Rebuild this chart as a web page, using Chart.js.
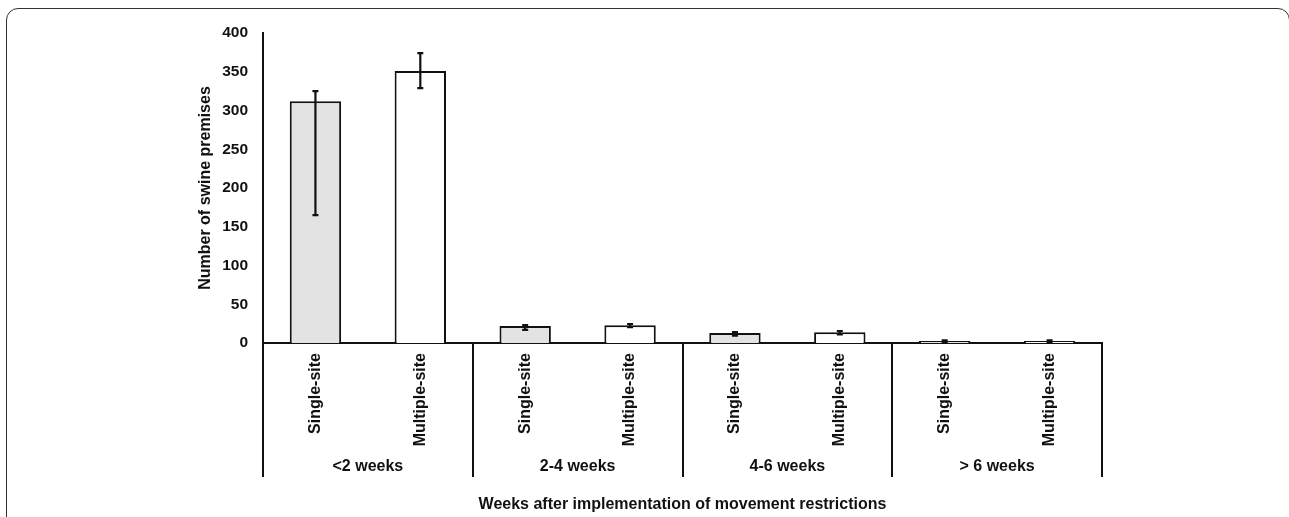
<!DOCTYPE html>
<html>
<head>
<meta charset="utf-8">
<script src="https://cdn.jsdelivr.net/npm/chart.js@4.4.1/dist/chart.umd.min.js"></script>
<style>
  body { margin: 0; background: #fff; }
  #wrap { position: relative; width: 1289px; height: 517px; overflow: hidden; }
  #frame {
    position: absolute; left: 6px; top: 8px; width: 1284px; height: 560px;
    border: 1.5px solid #333; border-radius: 12px; box-sizing: border-box;
    pointer-events: none;
  }
</style>
</head>
<body>
<div id="wrap">
  <canvas id="bar-chart"></canvas>
  <div id="frame"></div>
</div>
<script>
// values
var categories = ["Single-site", "Multiple-site", "Single-site", "Multiple-site",
                  "Single-site", "Multiple-site", "Single-site", "Multiple-site"];
var groups = ["<2 weeks", "2-4 weeks", "4-6 weeks", "> 6 weeks"];
var premises = [312, 351, 22, 23, 13, 14, 2.5, 2.5];
var errLow = [165, 329, 17, 20.5, 9.5, 11, 1.5, 1.5];
var errHigh = [325, 374, 23, 24.5, 14, 15.5, 3.5, 3.5];
var yTicks = [0, 50, 100, 150, 200, 250, 300, 350, 400];

var ink = "#111";
var font = "Liberation Sans";

// error bars on top of the bars
var errorBars = {
  id: "errorBars",
  afterDatasetsDraw: function (chart) {
    var ctx = chart.ctx;
    var y = chart.scales.y;
    var bars = chart.getDatasetMeta(0).data;
    ctx.save();
    ctx.strokeStyle = ink;
    ctx.lineWidth = 2.2;
    bars.forEach(function (bar, i) {
      var top = y.getPixelForValue(errHigh[i]);
      var bot = y.getPixelForValue(errLow[i]);
      ctx.beginPath();
      ctx.moveTo(bar.x, top); ctx.lineTo(bar.x, bot);
      ctx.moveTo(bar.x - 3, top); ctx.lineTo(bar.x + 3, top);
      ctx.moveTo(bar.x - 3, bot); ctx.lineTo(bar.x + 3, bot);
      ctx.stroke();
    });
    ctx.restore();
  }
};

// group separators and group labels under the tick labels
var groupAxis = {
  id: "groupAxis",
  afterDraw: function (chart) {
    var ctx = chart.ctx;
    var x = chart.scales.x;
    var area = chart.chartArea;
    var edges = [x.left];
    for (var g = 1; g < groups.length; g++) {
      edges.push((x.getPixelForTick(g * 2 - 1) + x.getPixelForTick(g * 2)) / 2);
    }
    edges.push(x.right);
    ctx.save();
    ctx.strokeStyle = ink;
    ctx.lineWidth = 2;
    edges.forEach(function (px) {
      ctx.beginPath();
      ctx.moveTo(Math.round(px), area.bottom);
      ctx.lineTo(Math.round(px), 477);
      ctx.stroke();
    });
    ctx.fillStyle = ink;
    ctx.font = "bold 16px '" + font + "'";
    ctx.textAlign = "center";
    ctx.textBaseline = "middle";
    groups.forEach(function (name, i) {
      ctx.fillText(name, (edges[i] + edges[i + 1]) / 2, 467);
    });
    ctx.restore();
  }
};

new Chart(document.getElementById("bar-chart"), {
  type: "bar",
  data: {
    labels: categories,
    datasets: [{
      data: premises,
      backgroundColor: ["#e3e3e3", "#ffffff", "#e3e3e3", "#ffffff",
                        "#e3e3e3", "#ffffff", "#e3e3e3", "#ffffff"],
      borderColor: ink,
      borderWidth: 2,
      borderSkipped: "bottom",
      barPercentage: 0.49,
      categoryPercentage: 1
    }]
  },
  options: {
    responsive: true,
    maintainAspectRatio: false,
    animation: false,
    layout: { padding: { left: 196, top: 33, right: 187, bottom: 0 } },
    plugins: { legend: { display: false }, tooltip: { enabled: false } },
    scales: {
      x: {
        grid: { display: false, drawTicks: false },
        border: { display: true, color: ink, width: 2 },
        ticks: {
          color: ink, padding: 10, minRotation: 90, maxRotation: 90,
          font: { family: font, size: 16, weight: "bold" }
        },
        title: {
          display: true, text: "Weeks after implementation of movement restrictions",
          color: ink, font: { family: font, size: 16, weight: "bold" },
          padding: { top: 0, bottom: 3 }
        },
        afterFit: function (scale) { scale.height = 174; }
      },
      y: {
        min: 0, max: 400,
        grid: { display: false, drawTicks: false },
        border: { display: true, color: ink, width: 2 },
        afterBuildTicks: function (scale) {
          scale.ticks = yTicks.map(function (v) { return { value: v }; });
        },
        ticks: {
          color: ink, padding: 15,
          font: { family: font, size: 15.5, weight: "bold" }
        },
        title: {
          display: true, text: "Number of swine premises",
          color: ink, font: { family: font, size: 16, weight: "bold" },
          padding: 0
        },
        afterFit: function (scale) { scale.width = 67; }
      }
    }
  },
  plugins: [errorBars, groupAxis]
});
</script>
</body>
</html>
